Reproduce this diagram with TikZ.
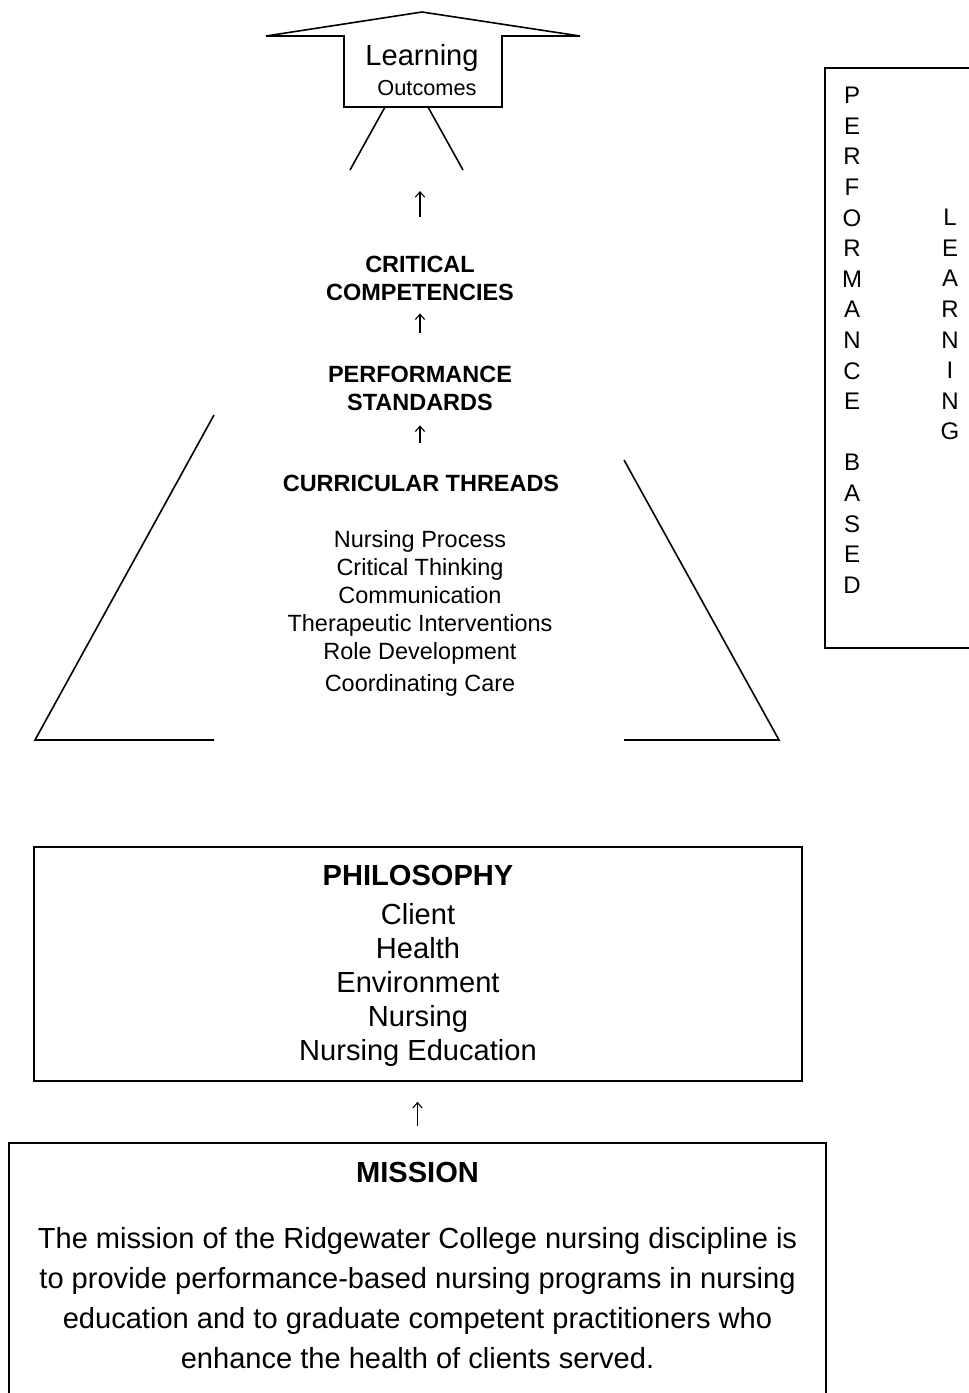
\documentclass[tikz,border=0pt]{standalone}
\usepackage{fontspec}
\setmainfont{Liberation Sans}
\usetikzlibrary{arrows.meta}
\tikzset{
  txt/.style={inner sep=0pt, anchor=base, align=center, font=\fontsize{17.6pt}{21pt}\selectfont},
  hd/.style={txt, font=\fontsize{17.6pt}{21pt}\selectfont\bfseries},
  big/.style={txt, font=\fontsize{21.8pt}{25.5pt}\selectfont},
  bighd/.style={txt, font=\fontsize{21.8pt}{25.5pt}\selectfont\bfseries},
  letters/.style={txt, anchor=north, font=\fontsize{18pt}{22.95pt}\selectfont},
  box/.style={draw, inner sep=0pt},
  uparr/.style={-{Straight Barb[length=4pt,width=7pt]}, line width=0.8pt},
}
\begin{document}
\begin{tikzpicture}[x=0.75pt, y=-0.75pt, line width=1.2pt, line join=miter]
   \useasboundingbox (0,0) rectangle (969,1393);
   \clip (0,0) rectangle (969,1393);
   % learning outcomes arrow head
   \draw (266,36) -- (422,12) -- (580,36) -- (502,36) -- (502,107)
      -- (344,107) -- (344,36) -- cycle;
   \draw (385,107) -- (350,170); % left leg
   \draw (428,107) -- (463,170); % right leg
   \node[big] (lrn) at (422,65) {Learning};
   \node[txt, font=\fontsize{16.3pt}{19pt}\selectfont] (out) at (427,95) {Outcomes};
   % middle column
   \node[hd, anchor=north] (crit) at (420,255.6) {CRITICAL\\COMPETENCIES};
   \node[hd, anchor=north] (perf) at (420,365.6) {PERFORMANCE\\STANDARDS};
   \node[hd] (thr) at (421,491.4) {CURRICULAR THREADS};
   \node[txt, anchor=north] (items) at (420,529.6) {Nursing Process\\Critical Thinking\\Communication\\Therapeutic Interventions\\Role Development\\[3pt]Coordinating Care};
   % trapezoid sides
   \draw (214,415) -- (35,740) -- (214,740);
   \draw (624,460) -- (779,740) -- (624,740);
   % side box
   \draw (825,68) rectangle (1000,648);
   \node[letters] (pb) at (852,86.4) {P\\E\\R\\F\\O\\R\\M\\A\\N\\C\\E\\[22.95pt]B\\A\\S\\E\\D};
   \node[letters] (lg) at (950,208.4) {L\\E\\A\\R\\N\\I\\N\\G};
   % philosophy
   \node[box, minimum width=576pt, minimum height=175.5pt] (philbox) at (418,964) {};
   \node[bighd] (phil) at (418,885.4) {PHILOSOPHY};
   \node[big, anchor=north] (philtxt) at (418,902.6) {Client\\Health\\Environment\\Nursing\\Nursing Education};
   % mission
   \node[box, minimum width=612.75pt, minimum height=225pt] (misbox) at (417.5,1293) {};
   \node[bighd] (mis) at (417.5,1182.4) {MISSION};
   \node[big, anchor=north, font=\fontsize{21.8pt}{30pt}\selectfont] (mistxt) at (417.5,1226.6) {The mission of the Ridgewater College nursing discipline is\\to provide performance-based nursing programs in nursing\\education and to graduate competent practitioners who\\enhance the health of clients served.};
   % arrows
   \draw[uparr, shorten <=28.95pt, shorten >=71.25pt] (crit.north) -- (crit.north |- out.south);
   \draw[uparr, shorten <=24.45pt, shorten >=8.7pt] (perf.north) -- (perf.north |- crit.south);
   \draw[uparr, shorten <=23.7pt, shorten >=10.2pt] (perf.north |- thr.north) -- (perf.south);
   \draw[uparr, shorten <=12pt, shorten >=15pt] (misbox.north) -- (misbox.north |- philbox.south);
\end{tikzpicture}
\end{document}
